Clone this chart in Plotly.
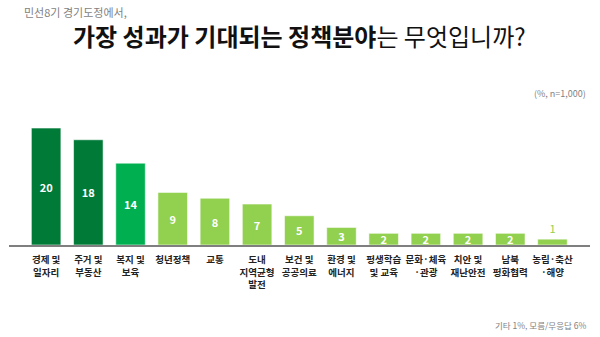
import plotly.graph_objects as go

# Policy areas (multi-line tick labels) and share of respondents (%)
categories = [
    "경제 및<br>일자리", "주거 및<br>부동산", "복지 및<br>보육", "청년정책", "교통",
    "도내<br>지역균형<br>발전", "보건 및<br>공공의료", "환경 및<br>에너지", "평생학습<br>및 교육",
    "문화·체육<br>·관광", "치안 및<br>재난안전", "남북<br>평화협력", "농림·축산<br>·해양",
]
values = [20, 18, 14, 9, 8, 7, 5, 3, 2, 2, 2, 2, 1]
tiers = ["dark", "dark", "mid", "light", "light", "light", "light", "light",
         "light", "light", "light", "light", "light"]

palette = {"dark": "#007A37", "mid": "#00B050", "light": "#92D050"}
bar_colors = [palette[t] for t in tiers]

FONT = "Noto Sans CJK KR"
MIN_INSIDE = 2  # bars shorter than this get their label above the bar

positions = ["inside" if v >= MIN_INSIDE else "outside" for v in values]
label_colors = ["white" if v >= MIN_INSIDE else palette["light"] for v in values]
label_sizes = [12 if v >= MIN_INSIDE else 9 for v in values]
label_text = [f"<b>{v}</b>" if v >= MIN_INSIDE else str(v) for v in values]

# bold multi-line category labels
tick_text = ["<br>".join(f"<b>{line}</b>" for line in c.split("<br>")) for c in categories]

x = list(range(len(categories)))

fig = go.Figure(
    go.Bar(
        x=x,
        y=values,
        width=0.7,
        marker=dict(color=bar_colors, line=dict(color="rgba(255,255,255,0.55)", width=1)),
        text=label_text,
        textposition=positions,
        insidetextanchor="middle",
        textangle=0,
        textfont=dict(family=FONT, color=label_colors, size=label_sizes),
        cliponaxis=False,
        hoverinfo="skip",
    )
)

fig.update_layout(
    width=600,
    height=337,
    margin=dict(l=9, r=10, t=100, b=92),
    paper_bgcolor="white",
    plot_bgcolor="white",
    showlegend=False,
    font=dict(family=FONT),
    uniformtext=dict(minsize=11, mode="show"),
    bargap=0.3,
)

fig.update_xaxes(
    range=[-0.88, 12.89],
    tickmode="array",
    tickvals=x,
    ticktext=tick_text,
    tickfont=dict(family=FONT, size=9.5, color="#222222"),
    ticklabelstandoff=5,
    showline=True,
    linecolor="#7f7f7f",
    linewidth=2,
    showgrid=False,
    zeroline=False,
    ticks="",
    fixedrange=True,
)
fig.update_yaxes(range=[0, 24.8], visible=False, fixedrange=True)

annotations = [
    dict(text="민선8기 경기도정에서,", x=0.0224, y=1.607, xanchor="left", yanchor="middle",
         font=dict(family=FONT, size=11, color="#7f7f7f")),
    dict(text="<b>가장 성과가 기대되는 정책분야</b>는 무엇입니까?", x=0.5, y=1.448,
         xanchor="center", yanchor="middle", font=dict(family=FONT, size=24, color="#111111")),
    dict(text="(%, n=1,000)", x=0.9966, y=1.048, xanchor="right", yanchor="middle",
         font=dict(family=FONT, size=9, color="#7f7f7f")),
    dict(text="기타 1%, 모름/무응답 6%", x=0.9966, y=-0.552, xanchor="right", yanchor="middle",
         font=dict(family=FONT, size=8.5, color="#7f7f7f")),
]
for a in annotations:
    a.update(xref="paper", yref="paper", showarrow=False)
fig.update_layout(annotations=annotations)

fig.write_html("out.html")
